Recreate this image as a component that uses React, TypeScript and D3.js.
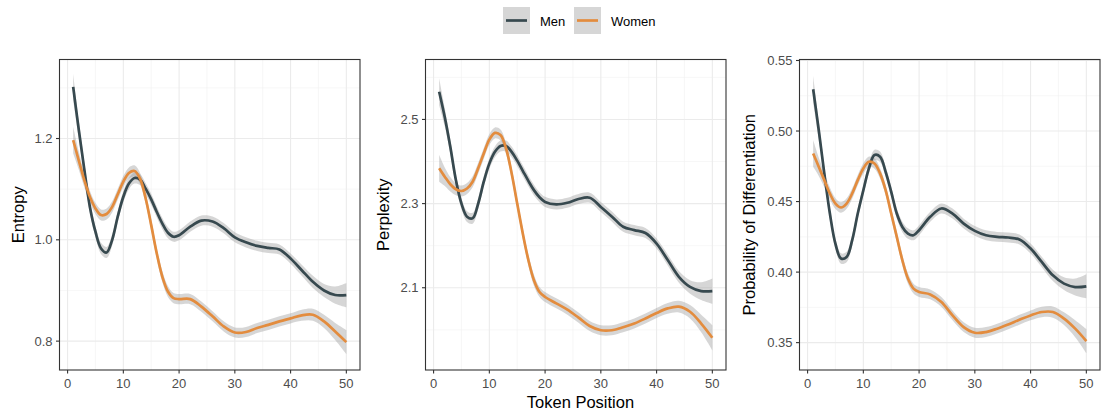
import * as d3 from "d3";

// token positions at which the smoothed curves were read
const positions = [1, 2, 3, 4, 5, 6, 7, 8, 9, 10, 11, 12, 13, 14, 15, 16, 17, 18, 19, 20, 22, 24, 26, 28, 30, 32, 34, 36, 38, 40, 42, 44, 46, 48, 50];

const entropyMen = [1.302, 1.218, 1.139, 1.065, 1.016, 0.983, 0.975, 1.0, 1.046, 1.085, 1.111, 1.122, 1.119, 1.101, 1.08, 1.055, 1.032, 1.014, 1.006, 1.009, 1.026, 1.038, 1.036, 1.023, 1.005, 0.995, 0.988, 0.984, 0.981, 0.963, 0.94, 0.917, 0.9, 0.891, 0.891];
const entropyWomen = [1.197, 1.157, 1.118, 1.085, 1.062, 1.049, 1.051, 1.065, 1.09, 1.115, 1.132, 1.136, 1.121, 1.082, 1.029, 0.973, 0.927, 0.898, 0.885, 0.883, 0.883, 0.868, 0.849, 0.829, 0.817, 0.818, 0.826, 0.832, 0.839, 0.845, 0.851, 0.852, 0.839, 0.819, 0.798];
const entropySe = [0.026, 0.018, 0.014, 0.012, 0.011, 0.011, 0.011, 0.011, 0.011, 0.011, 0.011, 0.011, 0.011, 0.011, 0.011, 0.011, 0.011, 0.011, 0.01, 0.01, 0.01, 0.01, 0.01, 0.01, 0.01, 0.01, 0.01, 0.01, 0.01, 0.01, 0.011, 0.012, 0.013, 0.017, 0.024];

const perplexityMen = [2.566, 2.506, 2.435, 2.356, 2.3, 2.269, 2.265, 2.3, 2.352, 2.395, 2.423, 2.437, 2.437, 2.423, 2.402, 2.378, 2.354, 2.332, 2.315, 2.304, 2.298, 2.302, 2.311, 2.314, 2.292, 2.269, 2.245, 2.237, 2.23, 2.205, 2.166, 2.126, 2.102, 2.092, 2.092];
const perplexityWomen = [2.384, 2.364, 2.346, 2.334, 2.33, 2.336, 2.352, 2.384, 2.419, 2.452, 2.468, 2.463, 2.431, 2.372, 2.3, 2.229, 2.166, 2.118, 2.09, 2.078, 2.063, 2.048, 2.029, 2.009, 1.999, 1.999, 2.006, 2.015, 2.027, 2.04, 2.051, 2.055, 2.043, 2.015, 1.981];
const perplexitySe = [0.032, 0.022, 0.017, 0.014, 0.013, 0.013, 0.013, 0.013, 0.013, 0.013, 0.013, 0.013, 0.013, 0.013, 0.013, 0.013, 0.013, 0.013, 0.012, 0.012, 0.012, 0.012, 0.012, 0.012, 0.012, 0.012, 0.012, 0.012, 0.012, 0.012, 0.013, 0.014, 0.016, 0.021, 0.03];

const diffMen = [0.5296, 0.5007, 0.47, 0.4415, 0.42, 0.4096, 0.4107, 0.4226, 0.4415, 0.458, 0.4735, 0.483, 0.4818, 0.4711, 0.4569, 0.4415, 0.432, 0.4273, 0.4261, 0.4297, 0.4392, 0.4451, 0.4415, 0.4344, 0.4292, 0.4261, 0.425, 0.4245, 0.4231, 0.4167, 0.4072, 0.3977, 0.3918, 0.3894, 0.3899];
const diffWomen = [0.4841, 0.4747, 0.4652, 0.4557, 0.4486, 0.4458, 0.4486, 0.4557, 0.4652, 0.4735, 0.4782, 0.477, 0.47, 0.4581, 0.4415, 0.425, 0.4084, 0.3954, 0.3883, 0.3859, 0.3842, 0.3788, 0.3693, 0.361, 0.357, 0.3575, 0.3599, 0.3629, 0.3662, 0.3693, 0.3717, 0.3717, 0.367, 0.3599, 0.3511];
const diffSe = [0.0095, 0.0065, 0.005, 0.0042, 0.0038, 0.0037, 0.0037, 0.0037, 0.0037, 0.0037, 0.0037, 0.0037, 0.0037, 0.0037, 0.0037, 0.0037, 0.0037, 0.0037, 0.0035, 0.0035, 0.0035, 0.0035, 0.0035, 0.0035, 0.0035, 0.0035, 0.0035, 0.0035, 0.0035, 0.0035, 0.0037, 0.004, 0.0045, 0.006, 0.0085];

const xTicks = [0, 10, 20, 30, 40, 50];
const xMinor = [5, 15, 25, 35, 45];

const entropyTicks = [0.8, 1.0, 1.2];
const entropyMinor = [0.9, 1.1, 1.3];
const perplexityTicks = [2.1, 2.3, 2.5];
const perplexityMinor = [2.0, 2.2, 2.4, 2.6];
const diffTicks = [0.35, 0.4, 0.45, 0.5, 0.55];
const diffMinor = [0.375, 0.425, 0.475, 0.525];

const seriesNames = ["Men", "Women"];
const seriesColors = ["#37494F", "#E38C3E"];

const FONT = "'Liberation Sans', Arial, Helvetica, sans-serif";

interface PanelSpec {
  title: string;
  men: number[];
  women: number[];
  se: number[];
  domain: [number, number];
  ticks: number[];
  minor: number[];
  fmt: string;
  left: number;
  right: number;
  titleX: number;
}

const panels: PanelSpec[] = [
  { title: "Entropy", men: entropyMen, women: entropyWomen, se: entropySe, domain: [0.743, 1.356], ticks: entropyTicks, minor: entropyMinor, fmt: ".1f", left: 59.5, right: 360, titleX: 23.5 },
  { title: "Perplexity", men: perplexityMen, women: perplexityWomen, se: perplexitySe, domain: [1.9045, 2.6425], ticks: perplexityTicks, minor: perplexityMinor, fmt: ".1f", left: 425.5, right: 726, titleX: 388.5 },
  { title: "Probability of Differentiation", men: diffMen, women: diffWomen, se: diffSe, domain: [0.3306, 0.5507], ticks: diffTicks, minor: diffMinor, fmt: ".2f", left: 799.5, right: 1100, titleX: 754.5 },
];

const TOP = 59.5;
const BOTTOM = 370;

function Panel({ p }: { p: PanelSpec }) {
  const x = d3.scaleLinear().domain([-1.45, 52.45]).range([p.left, p.right]);
  const y = d3.scaleLinear().domain(p.domain).range([BOTTOM, TOP]);
  const fmt = d3.format(p.fmt);
  const curve = d3.curveCatmullRom.alpha(0.5);

  const line = d3
    .line<number>()
    .x((_, i) => x(positions[i]))
    .y((d) => y(d))
    .curve(curve);

  const band = (vals: number[]) =>
    d3
      .area<number>()
      .x((_, i) => x(positions[i]))
      .y0((d, i) => y(d - p.se[i]))
      .y1((d, i) => y(d + p.se[i]))
      .curve(curve)(vals) ?? "";

  const series = [p.men, p.women];
  const clipId = `clip-${Math.round(p.left)}`;

  return (
    <g>
      <defs>
        <clipPath id={clipId}>
          <rect x={p.left} y={TOP} width={p.right - p.left} height={BOTTOM - TOP} />
        </clipPath>
      </defs>
      <rect x={p.left} y={TOP} width={p.right - p.left} height={BOTTOM - TOP} fill="#FFFFFF" />
      {p.minor.map((t) => (
        <line key={"ym" + t} x1={p.left} x2={p.right} y1={y(t)} y2={y(t)} stroke="#F2F2F2" strokeWidth={0.6} />
      ))}
      {xMinor.map((t) => (
        <line key={"xm" + t} x1={x(t)} x2={x(t)} y1={TOP} y2={BOTTOM} stroke="#F2F2F2" strokeWidth={0.6} />
      ))}
      {p.ticks.map((t) => (
        <line key={"yg" + t} x1={p.left} x2={p.right} y1={y(t)} y2={y(t)} stroke="#EBEBEB" strokeWidth={1.1} />
      ))}
      {xTicks.map((t) => (
        <line key={"xg" + t} x1={x(t)} x2={x(t)} y1={TOP} y2={BOTTOM} stroke="#EBEBEB" strokeWidth={1.1} />
      ))}
      <g clipPath={`url(#${clipId})`}>
        {series.map((s, k) => (
          <path key={"b" + k} d={band(s)} fill="#999999" fillOpacity={0.4} stroke="none" />
        ))}
        {series.map((s, k) => (
          <path key={"l" + k} d={line(s) ?? ""} fill="none" stroke={seriesColors[k]} strokeWidth={2.7} />
        ))}
      </g>
      <rect x={p.left} y={TOP} width={p.right - p.left} height={BOTTOM - TOP} fill="none" stroke="#333333" strokeWidth={1.1} />
      {xTicks.map((t) => (
        <g key={"xt" + t}>
          <line x1={x(t)} x2={x(t)} y1={BOTTOM} y2={BOTTOM + 3.5} stroke="#333333" strokeWidth={1.1} />
          <text x={x(t)} y={BOTTOM + 18.3} textAnchor="middle" fontSize={13} fill="#4D4D4D" fontFamily={FONT}>
            {t}
          </text>
        </g>
      ))}
      {p.ticks.map((t) => (
        <g key={"yt" + t}>
          <line x1={p.left - 3.5} x2={p.left} y1={y(t)} y2={y(t)} stroke="#333333" strokeWidth={1.1} />
          <text x={p.left - 7} y={y(t) + 4.6} textAnchor="end" fontSize={13} fill="#4D4D4D" fontFamily={FONT}>
            {fmt(t)}
          </text>
        </g>
      ))}
      <text
        transform={`translate(${p.titleX},${(TOP + BOTTOM) / 2}) rotate(-90)`}
        textAnchor="middle"
        fontSize={16.5}
        fill="#000000"
        fontFamily={FONT}
      >
        {p.title}
      </text>
    </g>
  );
}

function Legend() {
  const keyX = [503, 574];
  const textX = [540, 611];
  return (
    <g>
      {seriesNames.map((name, k) => (
        <g key={name}>
          <rect x={keyX[k]} y={7} width={27} height={27} fill="#D6D6D6" />
          <line x1={keyX[k] + 3} x2={keyX[k] + 24} y1={20.5} y2={20.5} stroke={seriesColors[k]} strokeWidth={2.7} />
          <text x={textX[k]} y={25.5} fontSize={13} fill="#000000" fontFamily={FONT}>
            {name}
          </text>
        </g>
      ))}
    </g>
  );
}

export default function App() {
  return (
    <svg
      width={1103}
      height={415}
      style={{ position: "absolute", left: 0, top: 0, background: "#FFFFFF" }}
    >
      <rect width={1103} height={415} fill="#FFFFFF" />
      <Legend />
      {panels.map((p) => (
        <Panel key={p.title} p={p} />
      ))}
      <text x={580.5} y={408.3} textAnchor="middle" fontSize={16.5} fill="#000000" fontFamily={FONT}>
        Token Position
      </text>
    </svg>
  );
}
